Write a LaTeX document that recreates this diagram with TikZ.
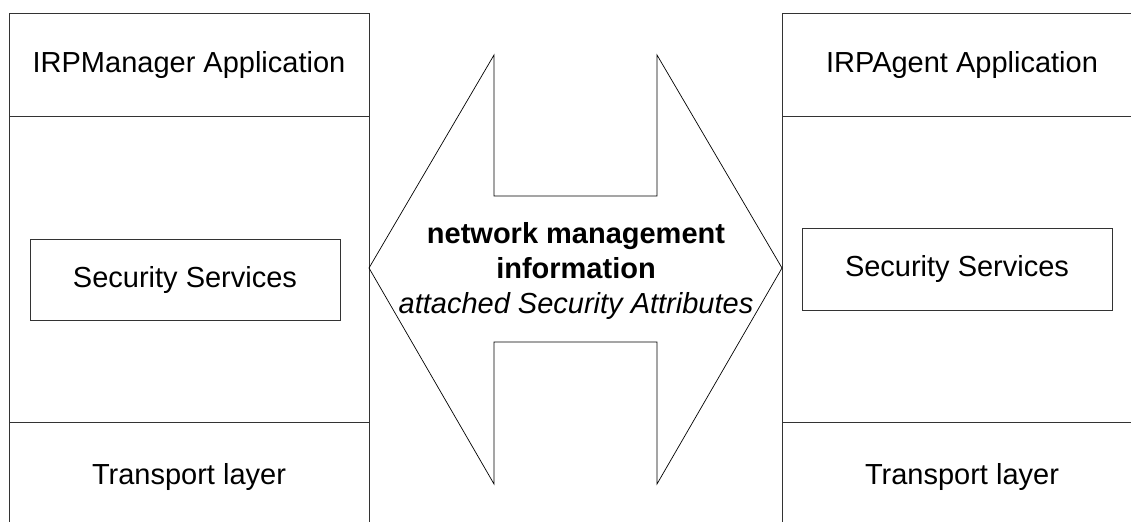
\documentclass[tikz,border=0pt]{standalone}
\usepackage{fontspec}
\setmainfont{Liberation Sans}
\usepackage{tikz}
\usetikzlibrary{positioning}
\tikzset{>=stealth}
\tikzset{
	layer/.style={draw=black!80, line width=0.5pt, rectangle, minimum width=180pt, inner sep=0pt,
		font=\fontsize{14.5pt}{17.5pt}\selectfont},
	secbox/.style={draw=black!80, line width=0.5pt, rectangle, minimum width=155pt, inner sep=0pt,
		font=\fontsize{14.5pt}{17.5pt}\selectfont},
	infotext/.style={align=center, inner sep=0pt, font=\fontsize{14.5pt}{17.5pt}\selectfont}
}

\begin{document}
\begin{tikzpicture}[x=0.5pt, y=-0.5pt]
		\useasboundingbox (0,0) rectangle (1131,521);
		\clip (0,0) rectangle (1131,521);
		% manager side
		\node[layer, minimum height=51.5pt] (manapp) at (189,64.5) {IRPManager Application};
		\node[layer, minimum height=153pt] (manmid) at (189,269) {};
		\node[layer, minimum height=55pt] (mantrans) at (189,477) {Transport layer};
		\node[secbox, minimum height=40.5pt] (mansec) at (185,279.5) {Security Services};
		% agent side
		\node[layer, minimum height=51.5pt] (agtapp) at (962,64.5) {IRPAgent Application};
		\node[layer, minimum height=153pt] (agtmid) at (962,269) {};
		\node[layer, minimum height=55pt] (agttrans) at (962,477) {Transport layer};
		\node[secbox, minimum height=41pt] (agtsec) at (957,269) {Security Services};
		% double arrow
		\draw[line width=0.35pt] (494,55) -- (494,196) -- (657,196) -- (657,55) -- (782,268)
			-- (657,484) -- (657,342) -- (494,342) -- (494,484) -- (369,268) -- cycle;
		\node[infotext] (info) at (576,271) {\textbf{network management}\\\textbf{information}\\\textit{attached Security Attributes}};
\end{tikzpicture}
\end{document}
